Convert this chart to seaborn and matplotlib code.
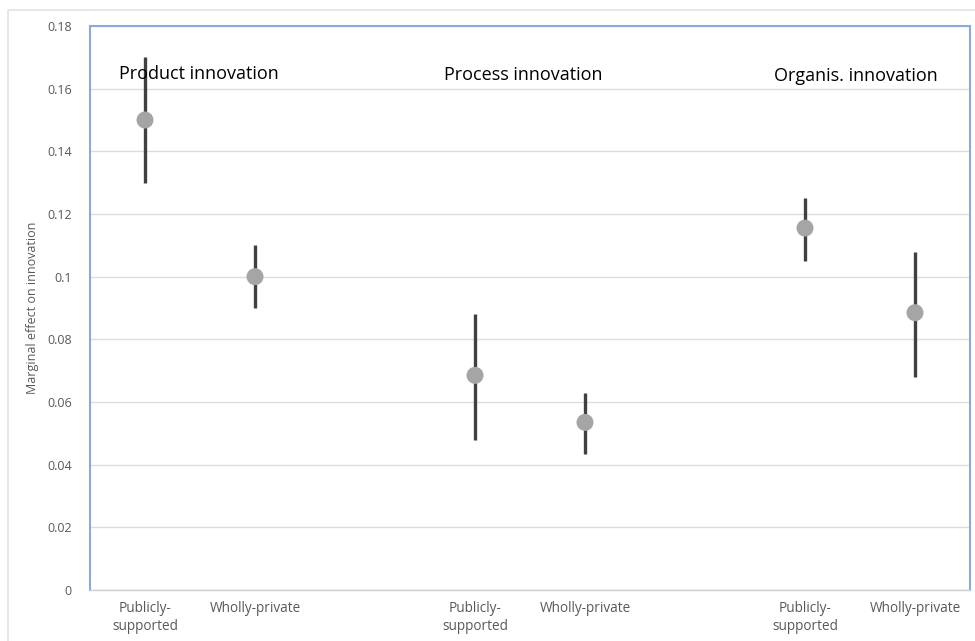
import matplotlib
matplotlib.use("Agg")
import matplotlib.pyplot as plt
import seaborn as sns
import pandas as pd
from matplotlib.patches import Rectangle

# values
groups = ["Product innovation", "Process innovation", "Organis. innovation"]
kinds = ["Publicly-\nsupported", "Wholly-private"]
estimate = [0.150, 0.100, 0.0685, 0.0535, 0.1155, 0.0885]
lower = [0.130, 0.090, 0.048, 0.0435, 0.105, 0.068]
upper = [0.170, 0.110, 0.088, 0.063, 0.125, 0.108]
slots = [0, 1, 3, 4, 6, 7]  # 8 category slots, 2 and 5 left empty
slot_labels = ["Publicly-\nsupported", "Wholly-private", "",
               "Publicly-\nsupported", "Wholly-private", "",
               "Publicly-\nsupported", "Wholly-private"]
yticks = [0, 0.02, 0.04, 0.06, 0.08, 0.1, 0.12, 0.14, 0.16, 0.18]
ytick_labels = ["0", "0.02", "0.04", "0.06", "0.08", "0.1", "0.12", "0.14", "0.16", "0.18"]

df = pd.DataFrame({
    "slot": slots,
    "group": [g for g in groups for _ in kinds],
    "estimate": estimate,
    "lower": lower,
    "upper": upper,
})

sns.set_theme(style="white")
plt.rcParams["font.family"] = ["Open Sans", "DejaVu Sans"]

fig = plt.figure(figsize=(9.75, 6.41), dpi=100)
ax = fig.add_axes([90 / 975, 51 / 641, 880 / 975, 564 / 641])

# light frame of the chart area
fig.patches.append(Rectangle((8 / 975, -0.01), 1.0, (641 - 10) / 641 + 0.01,
                             transform=fig.transFigure, fill=False,
                             edgecolor="#E3E3E3", linewidth=1.2))

ax.vlines(df["slot"], df["lower"], df["upper"], color="#404040", linewidth=2.4, zorder=2)
sns.scatterplot(data=df, x="slot", y="estimate", color="#A5A5A5", s=150,
                edgecolor="none", zorder=3, ax=ax, legend=False)

ax.set_xlim(-0.5, 7.5)
ax.set_ylim(0, 0.18)
ax.set_yticks(yticks)
ax.set_yticklabels(ytick_labels)
ax.set_xticks(range(len(slot_labels)))
ax.set_xticklabels(slot_labels, linespacing=1.3, va="top")
ax.tick_params(axis="y", length=0, labelsize=9, labelcolor="#595959", pad=13)
ax.tick_params(axis="x", length=0, labelsize=9.8, labelcolor="#595959", pad=8)
ax.grid(axis="y", color="#DCDCDC", linewidth=1.0)
ax.set_axisbelow(True)
ax.set_xlabel("")
ax.set_ylabel("Marginal effect on innovation", fontsize=9, color="#595959", labelpad=6)

for side in ["left", "top", "right"]:
    ax.spines[side].set_color("#8EA9DB")
    ax.spines[side].set_linewidth(1.5)
ax.spines["bottom"].set_color("#D0D0D0")
ax.spines["bottom"].set_linewidth(1.0)

# group titles
title_pos = [(0.49, 0.1648), (3.44, 0.1645), (6.46, 0.1640)]
for g, (tx, ty) in zip(groups, title_pos):
    ax.text(tx, ty, g, ha="center", va="center", fontsize=13, color="#000000", zorder=4)

fig.savefig("out.png", dpi=100, facecolor="white")
